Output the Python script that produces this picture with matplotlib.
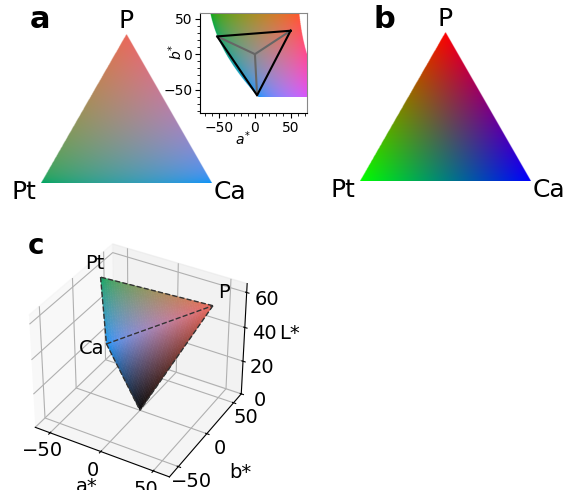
import numpy as np
import matplotlib
matplotlib.use('Agg')
import matplotlib.pyplot as plt
from mpl_toolkits.mplot3d.art3d import Poly3DCollection

# Colours of the three end members in L*a*b*
lab_P = [60, 50, 33]
lab_Pt = [60, -53, 25]
lab_Ca = [60, 3, -58]
lab_black = [0, 0, 0]

rgb_P = [1, 0, 0]
rgb_Pt = [0, 1, 0]
rgb_Ca = [0, 0, 1]

# Inset limits and ticks
inset_xlim = [-77, 73]
inset_ylim = [-83, 58]
inset_ticks = [-50, 0, 50]
gamut_b_min = -60
gamut_L = 60

# 3D axis ranges
a_lim = [-65, 65]
b_lim = [-65, 65]
L_lim = [0, 65]
ab_ticks = [-50, 0, 50]
L_ticks = [0, 20, 40, 60]

W, H = 568, 490


def lab2rgb(lab):
    lab = np.asarray(lab, dtype=float)
    fy = (lab[..., 0] + 16) / 116
    fx = fy + lab[..., 1] / 500
    fz = fy - lab[..., 2] / 200
    def finv(t):
        return np.where(t > 6 / 29, t**3, 3 * (6 / 29)**2 * (t - 4 / 29))
    x = 0.95047 * finv(fx)
    y = finv(fy)
    z = 1.08883 * finv(fz)
    r = 3.2406 * x - 1.5372 * y - 0.4986 * z
    g = -0.9689 * x + 1.8758 * y + 0.0415 * z
    b = 0.0557 * x - 0.2040 * y + 1.0570 * z
    lin = np.stack([r, g, b], axis=-1)
    return np.where(lin > 0.0031308,
                    1.055 * np.abs(lin)**(1 / 2.4) - 0.055,
                    12.92 * lin)


def add_axes_px(left, top, right, bottom, **kw):
    return fig.add_axes([left / W, 1 - bottom / H, (right - left) / W, (bottom - top) / H], **kw)


# Triangle image from barycentric weights, colours mixed by mixer()
def draw_triangle(ax, c_P, c_Pt, c_Ca, mixer):
    n = 500
    h = np.sqrt(3) / 2
    xs, ys = np.meshgrid(np.linspace(0, 1, n), np.linspace(0, h, n))
    w_P = ys / h
    w_Ca = xs - ys / (2 * h)
    w_Pt = 1 - w_P - w_Ca
    cols = (w_P[..., None] * np.array(c_P) + w_Pt[..., None] * np.array(c_Pt)
            + w_Ca[..., None] * np.array(c_Ca))
    rgb = np.clip(mixer(cols), 0, 1)
    alpha = (w_P >= 0) & (w_Ca >= 0) & (w_Pt >= 0)
    ax.imshow(np.dstack([rgb, alpha.astype(float)]), origin='lower', extent=[0, 1, 0, h],
              interpolation='bilinear', aspect='auto')
    ax.set_xlim(0, 1)
    ax.set_ylim(0, h)
    ax.axis('off')
    ax.text(0.5, h + 0.005, 'P', fontsize=18, ha='center', va='bottom', clip_on=False)
    ax.text(-0.10, -0.05, 'Pt', fontsize=18, ha='center', va='center', clip_on=False)
    ax.text(1.105, -0.05, 'Ca', fontsize=18, ha='center', va='center', clip_on=False)


fig = plt.figure(figsize=(W / 100, H / 100), dpi=100)

# panel a
ax_a = add_axes_px(41, 34, 212, 183)
draw_triangle(ax_a, lab_P, lab_Pt, lab_Ca, lab2rgb)

# inset: a*b* plane
ax_in = add_axes_px(200, 13, 307, 113)
aa, bb = np.meshgrid(np.linspace(inset_xlim[0], inset_xlim[1], 400),
                     np.linspace(gamut_b_min, inset_ylim[1], 400))
lab_plane = np.stack([np.full_like(aa, gamut_L), aa, bb], axis=-1)
rgb_plane = lab2rgb(lab_plane)
inside = np.all((rgb_plane >= -0.001) & (rgb_plane <= 1.001), axis=-1)
ax_in.imshow(np.dstack([np.clip(rgb_plane, 0, 1), inside.astype(float)]), origin='lower',
             extent=[inset_xlim[0], inset_xlim[1], gamut_b_min, inset_ylim[1]], aspect='auto')
for v in (lab_P, lab_Pt, lab_Ca):
    ax_in.plot([0, v[1]], [0, v[2]], color='#666666', lw=1.5)
ax_in.plot([lab_P[1], lab_Pt[1], lab_Ca[1], lab_P[1]], [lab_P[2], lab_Pt[2], lab_Ca[2], lab_P[2]],
           color='k', lw=1.5)
ax_in.set_xlim(inset_xlim)
ax_in.set_ylim(inset_ylim)
ax_in.set_xticks(inset_ticks)
ax_in.set_yticks(inset_ticks)
ax_in.minorticks_on()
ax_in.tick_params(labelsize=10, pad=2)
ax_in.set_xlabel('$a^{*}$', fontsize=10)
ax_in.set_ylabel('$b^{*}$', fontsize=10)
ax_in.xaxis.set_label_coords(0.40, -0.16)
ax_in.yaxis.set_label_coords(-0.14, 0.61)
ax_in.spines['top'].set_color('#888888')
ax_in.spines['right'].set_color('#888888')

# panel b
ax_b = add_axes_px(360, 32, 531, 181)
draw_triangle(ax_b, rgb_P, rgb_Pt, rgb_Ca, lambda c: c)

# panel c: L*a*b* volume
ax_c = fig.add_axes([0.0005, 0.0105, 0.48, 0.511], projection='3d')
ax_c.patch.set_alpha(0)
ax_c.view_init(elev=35, azim=-60)
ax_c.set_box_aspect((4, 4, 3.5))
ax_c.computed_zorder = False


def face_tris(v0, v1, v2, n=45):
    v0, v1, v2 = np.array(v0, float), np.array(v1, float), np.array(v2, float)
    verts, cols = [], []
    for i in range(n):
        for j in range(n - i):
            p = [v0 + (i * (v1 - v0) + j * (v2 - v0)) / n,
                 v0 + ((i + 1) * (v1 - v0) + j * (v2 - v0)) / n,
                 v0 + (i * (v1 - v0) + (j + 1) * (v2 - v0)) / n]
            tris = [p]
            if i + j < n - 1:
                tris.append([p[1], p[2], v0 + ((i + 1) * (v1 - v0) + (j + 1) * (v2 - v0)) / n])
            for t in tris:
                t = np.array(t)
                verts.append(t[:, [1, 2, 0]])
                cols.append(np.clip(lab2rgb(t.mean(axis=0)), 0, 1))
    return verts, cols


for k, face in enumerate([(lab_P, lab_Pt, lab_Ca), (lab_P, lab_Ca, lab_black)]):
    verts, cols = face_tris(*face)
    ax_c.add_collection3d(Poly3DCollection(verts, facecolors=cols, edgecolors=cols,
                                           linewidths=0.3, zorder=2 + k))

for p, q in [(lab_P, lab_Pt), (lab_Pt, lab_Ca), (lab_Ca, lab_P), (lab_P, lab_black), (lab_Ca, lab_black)]:
    ax_c.plot([p[1], q[1]], [p[2], q[2]], [p[0], q[0]], color='#333333', ls='--', lw=1.0, zorder=5)

ax_c.text(lab_P[1] + 3, lab_P[2] + 3, lab_P[0] + 4, 'P', fontsize=14, zorder=6)
ax_c.text(lab_Pt[1] - 17, lab_Pt[2] + 3, lab_Pt[0] + 1, 'Pt', fontsize=14, zorder=6)
ax_c.text(lab_Ca[1] - 28, lab_Ca[2] + 3, lab_Ca[0] - 12, 'Ca', fontsize=14, zorder=6)

ax_c.set_xlim(a_lim)
ax_c.set_ylim(b_lim)
ax_c.set_zlim(L_lim)
ax_c.set_xticks(ab_ticks)
ax_c.set_yticks(ab_ticks)
ax_c.set_zticks(L_ticks)
ax_c.tick_params(labelsize=14, pad=1)
plt.setp(ax_c.get_xticklabels(), va='center')
plt.setp(ax_c.get_yticklabels(), va='center')
ax_c.set_xlabel('a*', fontsize=14, labelpad=-4)
ax_c.set_ylabel('b*', fontsize=14, labelpad=3)
ax_c.set_zlabel('L*', fontsize=14, labelpad=0)

# panel letters
fig.text(40 / W, 1 - 19 / H, 'a', fontsize=22, fontweight='bold', ha='center', va='center')
fig.text(384 / W, 1 - 20 / H, 'b', fontsize=22, fontweight='bold', ha='center', va='center')
fig.text(36 / W, 1 - 246 / H, 'c', fontsize=20, fontweight='bold', ha='center', va='center')

plt.savefig('out.png', dpi=100)
